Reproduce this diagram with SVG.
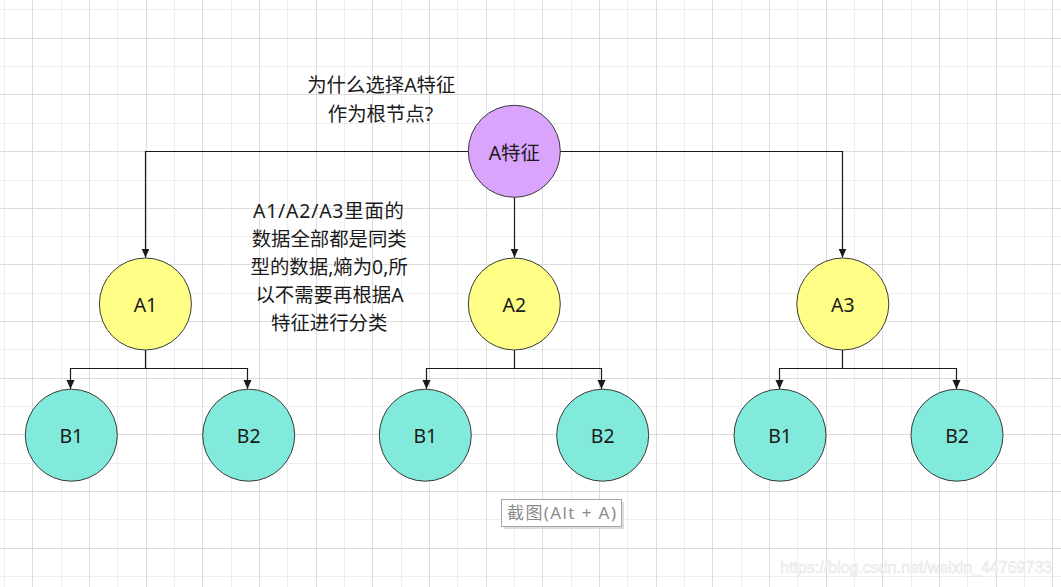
<svg xmlns="http://www.w3.org/2000/svg" width="1061" height="587" viewBox="0 0 1061 587">
<style>
.gl{stroke:#ededed;stroke-width:1}
.gd{stroke:#dcdcdc;stroke-width:1}
.n{stroke:#3a3a3a;stroke-width:1}
.root{fill:#daa4fc}
.a{fill:#ffff88}
.b{fill:#82eadb}
.c{fill:none;stroke:#1a1a1a;stroke-width:1.2;marker-end:url(#arr)}
.t{font-family:"Noto Sans","Noto Sans CJK SC",sans-serif;font-size:19.4px;fill:#1a1a1a}
.m{text-anchor:middle}
</style>
<defs>
<marker id="arr" viewBox="0 0 10 10" refX="10" refY="5" markerWidth="9" markerHeight="9" markerUnits="userSpaceOnUse" orient="auto">
<path d="M0,0.5 L10,5 L0,9.5 z" fill="#1a1a1a"/>
</marker>
</defs>
<rect width="1061" height="587" fill="#ffffff"/>
<g id="grid">
<path class="gl" d="M4.5 0V587M61.5 0V587M117.5 0V587M174.5 0V587M231.5 0V587M287.5 0V587M344.5 0V587M401.5 0V587M457.5 0V587M514.5 0V587M571.5 0V587M627.5 0V587M684.5 0V587M741.5 0V587M797.5 0V587M854.5 0V587M911.5 0V587M967.5 0V587M1024.5 0V587"/>
<path class="gl" d="M0 9.5H1061M0 66.5H1061M0 123.5H1061M0 180.5H1061M0 236.5H1061M0 293.5H1061M0 349.5H1061M0 406.5H1061M0 463.5H1061M0 519.5H1061M0 576.5H1061"/>
<path class="gd" d="M32.5 0V587M89.5 0V587M146.5 0V587M202.5 0V587M259.5 0V587M316.5 0V587M372.5 0V587M429.5 0V587M486.5 0V587M542.5 0V587M599.5 0V587M656.5 0V587M712.5 0V587M769.5 0V587M826.5 0V587M882.5 0V587M939.5 0V587M996.5 0V587M1052.5 0V587"/>
<path class="gd" d="M0 38.5H1061M0 94.5H1061M0 151.5H1061M0 208.5H1061M0 264.5H1061M0 321.5H1061M0 378.5H1061M0 434.5H1061M0 491.5H1061M0 548.5H1061"/>
</g>
<g id="connectors">
<path class="c" d="M468.5 151.5H145.5V257.5"/>
<path class="c" d="M560 151.5H842.5V257.5"/>
<path class="c" d="M514.5 197V257.5"/>
<path class="c" d="M145.5 350V368.5H70.5V389"/>
<path class="c" d="M145.5 368.5H247.5V389"/>
<path class="c" d="M514.5 350V368.5H426.5V389"/>
<path class="c" d="M514.5 368.5H601.5V389"/>
<path class="c" d="M842.5 350V368.5H779.5V389"/>
<path class="c" d="M842.5 368.5H956.5V389"/>
</g>
<g id="root">
<circle class="n root" cx="514.3" cy="151.3" r="46"/>
<text class="t m" x="514.3" y="159.5">A特征</text>
</g>
<g id="A1">
<circle class="n a" cx="145.4" cy="304" r="46"/>
<text class="t m" x="145.4" y="311.5">A1</text>
</g>
<g id="A2">
<circle class="n a" cx="514.3" cy="304" r="46"/>
<text class="t m" x="514.3" y="311.5">A2</text>
</g>
<g id="A3">
<circle class="n a" cx="842.8" cy="304" r="46"/>
<text class="t m" x="842.8" y="311.5">A3</text>
</g>
<g id="A1_B1">
<circle class="n b" cx="71.3" cy="435.2" r="46"/>
<text class="t m" x="71.3" y="442.6">B1</text>
</g>
<g id="A1_B2">
<circle class="n b" cx="248.7" cy="435.2" r="46"/>
<text class="t m" x="248.7" y="442.6">B2</text>
</g>
<g id="A2_B1">
<circle class="n b" cx="425.3" cy="435.2" r="46"/>
<text class="t m" x="425.3" y="442.6">B1</text>
</g>
<g id="A2_B2">
<circle class="n b" cx="602.7" cy="435.2" r="46"/>
<text class="t m" x="602.7" y="442.6">B2</text>
</g>
<g id="A3_B1">
<circle class="n b" cx="780" cy="435.2" r="46"/>
<text class="t m" x="780" y="442.6">B1</text>
</g>
<g id="A3_B2">
<circle class="n b" cx="957" cy="435.2" r="46"/>
<text class="t m" x="957" y="442.6">B2</text>
</g>
<g id="question">
<text class="t m" x="381.3" y="92">为什么选择A特征</text>
<text class="t m" x="380.5" y="120.5">作为根节点?</text>
</g>
<g id="note">
<text class="t m" x="328.5" y="217.5" textLength="151" lengthAdjust="spacing">A1/A2/A3里面的</text>
<text class="t m" x="329.2" y="245.5">数据全部都是同类</text>
<text class="t m" x="329.2" y="273.5">型的数据,熵为0,所</text>
<text class="t m" x="329.5" y="301.5">以不需要再根据A</text>
<text class="t m" x="329.2" y="329.5">特征进行分类</text>
</g>
<g id="tooltip">
<rect x="504" y="502" width="120" height="27" fill="#d4d4d4" opacity="0.8"/>
<rect x="501.5" y="499.5" width="120" height="27" fill="#ffffff" stroke="#a6a6a6" stroke-width="1"/>
<text x="507" y="519" textLength="109" lengthAdjust="spacing" style="font-family:'Noto Sans','Noto Sans CJK SC',sans-serif;font-size:17px;fill:#8a8a8a">截图(Alt + A)</text>
</g>
<g id="watermark">
<text x="780" y="573" style="font-family:'Liberation Sans',sans-serif;font-size:16px;fill:#fbfbfb;stroke:#e2e2e2;stroke-width:0.5">https://blog.csdn.net/weixin_44769733</text>
</g>
</svg>
